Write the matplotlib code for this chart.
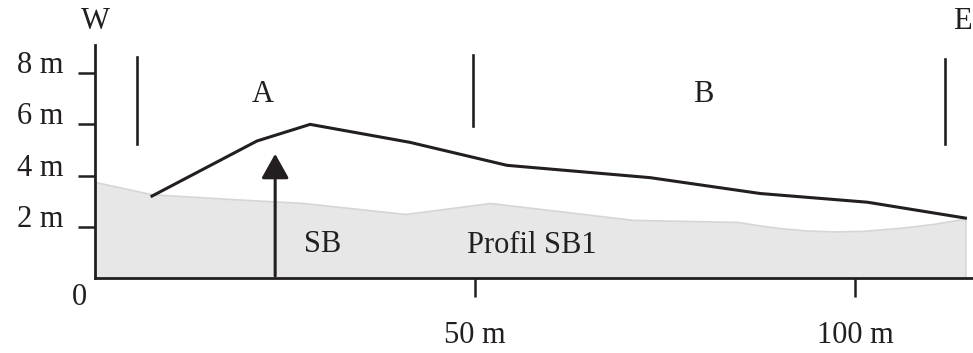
import matplotlib
matplotlib.use('Agg')
import matplotlib.pyplot as plt

plt.rcParams['font.family'] = ['Liberation Serif', 'DejaVu Serif']

ink = '#231f20'

# upper line (distance in m, height in m)
line_x = [7.5, 21.3, 28.3, 41.4, 54.2, 73.0, 87.5, 101.6, 114.5]
line_y = [3.20, 5.35, 6.00, 5.30, 4.40, 3.92, 3.30, 2.96, 2.34]

# grey profile
prof_x = [0, 7.5, 18.2, 27.4, 40.8, 52.0, 70.8, 84.5, 87.5, 90.1, 93.5, 97.1, 101.0, 105.9, 110.0, 114.5]
prof_y = [3.75, 3.27, 3.08, 2.93, 2.50, 2.93, 2.27, 2.19, 2.05, 1.95, 1.86, 1.82, 1.84, 1.96, 2.10, 2.32]

# section boundaries
bound_x = [5.5, 49.7, 111.8]
bound_lo = [5.25, 5.95, 5.25]
bound_hi = [8.65, 8.70, 8.55]

sb_x = 23.7
sb_top = 4.85

fig = plt.figure(figsize=(9.73, 3.53), dpi=100)
ax = fig.add_axes([95 / 973, 75 / 353, 878 / 973, 233 / 353])

ax.fill_between(prof_x, prof_y, 0, facecolor='#e7e7e7', edgecolor='#d6d6d6', lw=1.2, zorder=1)
ax.plot(line_x, line_y, color=ink, lw=2.2, solid_joinstyle='miter', zorder=3)

for bx, lo, hi in zip(bound_x, bound_lo, bound_hi):
    ax.plot([bx, bx], [lo, hi], color=ink, lw=1.9, zorder=3)

ax.annotate('', xy=(sb_x, sb_top), xytext=(sb_x, 0.08),
            arrowprops=dict(arrowstyle='-|>,head_length=0.75,head_width=0.42',
                            mutation_scale=20, lw=2.2, color=ink,
                            shrinkA=0, shrinkB=0))

fs = 22
ax.text(22.1, 7.15, 'A', fontsize=fs, color=ink, ha='center', va='center')
ax.text(80.0, 7.15, 'B', fontsize=fs, color=ink, ha='center', va='center')
ax.text(29.9, 1.30, 'SB', fontsize=fs, color=ink, ha='center', va='center')
ax.text(57.5, 1.28, 'Profil SB1', fontsize=fs, color=ink, ha='center', va='center')
ax.text(-2.0, -0.78, '0', fontsize=fs, color=ink, ha='center', va='center', clip_on=False)
ax.text(0.1, 10.0, 'W', fontsize=fs, color=ink, ha='center', va='center', clip_on=False)
ax.text(115.3, 10.0, 'E', fontsize=fs, color=ink, ha='right', va='center', clip_on=False)

ax.set_xlim(0, 115.5)
ax.set_ylim(0, 9.1)
ax.set_xticks([50, 100])
ax.set_xticklabels(['50 m', '100 m'])
ax.set_yticks([2, 4, 6, 8])
ax.set_yticklabels(['2 m', '4 m', '6 m', '8 m'])
for t in ax.get_yticklabels():
    t.set_va('baseline')

ax.tick_params(axis='y', direction='out', length=12, width=1.8, pad=11,
               labelsize=fs, colors=ink)
ax.tick_params(axis='x', direction='out', length=14, width=1.8, pad=17,
               labelsize=fs, colors=ink)
for s in ['top', 'right']:
    ax.spines[s].set_visible(False)
for s in ['left', 'bottom']:
    ax.spines[s].set_linewidth(2.0)
    ax.spines[s].set_color(ink)
ax.patch.set_visible(False)

fig.savefig('out.png', dpi=100)
